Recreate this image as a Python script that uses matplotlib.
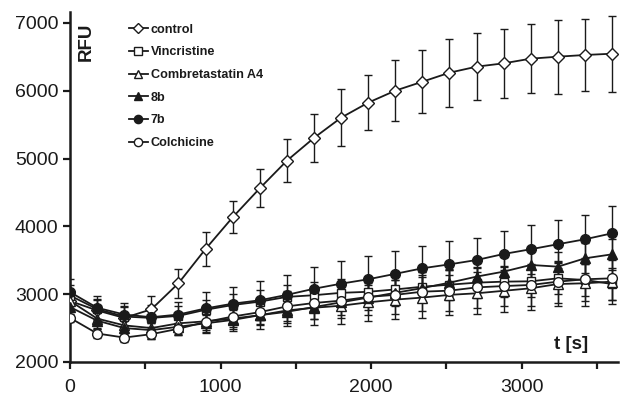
import matplotlib
matplotlib.use("Agg")
import matplotlib.pyplot as plt
from matplotlib.ticker import MultipleLocator

plt.rcParams["font.family"] = ["Liberation Sans", "DejaVu Sans"]

# Time points (s) and mean RFU / error per series.
TIME = [0, 180, 360, 540, 720, 900, 1080, 1260, 1440, 1620, 1800,
        1980, 2160, 2340, 2520, 2700, 2880, 3060, 3240, 3420, 3600]

CONTROL = [2900, 2760, 2650, 2777, 3161, 3667, 4134, 4562, 4969, 5305, 5603,
           5825, 6002, 6134, 6267, 6356, 6405, 6474, 6503, 6528, 6547]
CONTROL_ERR = [120, 150, 180, 200, 215, 250, 235, 280, 315, 357, 420,
               410, 455, 468, 500, 490, 510, 505, 545, 535, 560]

VINCRISTINE = [2980, 2780, 2670, 2650, 2680, 2770, 2840, 2890, 2960, 2985, 3020,
               3035, 3070, 3110, 3140, 3170, 3185, 3190, 3234, 3209, 3150]
VINCRISTINE_ERR = [150, 150, 140, 130, 140, 150, 160, 170, 180, 190, 200,
                   200, 210, 210, 220, 220, 220, 230, 230, 240, 240]

COMBRETASTATIN = [2900, 2640, 2540, 2500, 2570, 2600, 2640, 2690, 2760, 2800, 2830,
                  2880, 2920, 2950, 2990, 3013, 3050, 3087, 3150, 3161, 3185]
COMBRETASTATIN_ERR = [150, 140, 150, 160, 150, 170, 180, 200, 230, 250, 270,
                      280, 290, 300, 300, 310, 310, 320, 320, 330, 330]

C8B = [2810, 2610, 2500, 2470, 2520, 2570, 2620, 2690, 2740, 2810, 2880,
       2950, 3020, 3090, 3170, 3259, 3333, 3431, 3406, 3529, 3588]
C8B_ERR = [130, 120, 120, 110, 120, 130, 140, 150, 160, 170, 180,
           180, 190, 190, 200, 200, 210, 210, 220, 220, 230]

C7B = [3030, 2800, 2700, 2660, 2700, 2790, 2860, 2910, 2990, 3080, 3155,
       3220, 3300, 3382, 3440, 3504, 3593, 3663, 3737, 3810, 3898]
C7B_ERR = [200, 180, 170, 180, 190, 235, 245, 290, 300, 320, 340,
           340, 335, 330, 350, 330, 340, 360, 350, 360, 400]

COLCHICINE = [2650, 2420, 2360, 2410, 2490, 2590, 2670, 2735, 2820, 2870, 2905,
              2960, 2990, 3037, 3052, 3100, 3120, 3136, 3185, 3220, 3234]
COLCHICINE_ERR = [60, 60, 60, 70, 90, 120, 150, 180, 220, 240, 260,
                  270, 280, 290, 300, 300, 300, 310, 310, 320, 320]

INK = "#1a1a1a"

# label, values, errors, marker, face colour, marker size
SERIES = [
    ("control", CONTROL, CONTROL_ERR, "D", "white", 6.5),
    ("Vincristine", VINCRISTINE, VINCRISTINE_ERR, "s", "white", 6),
    ("Combretastatin A4", COMBRETASTATIN, COMBRETASTATIN_ERR, "^", "white", 6.5),
    ("8b", C8B, C8B_ERR, "^", INK, 6.5),
    ("7b", C7B, C7B_ERR, "o", INK, 7),
    ("Colchicine", COLCHICINE, COLCHICINE_ERR, "o", "white", 7),
]

fig = plt.figure(figsize=(6.2, 3.98), dpi=100)
ax = fig.add_axes([0.113, 0.0905, 0.884, 0.879])

handles = []
for label, values, errors, marker, face, size in SERIES:
    ax.errorbar(TIME, values, yerr=errors, fmt="none", ecolor=INK,
                elinewidth=1.0, capsize=3, capthick=1.0, zorder=2)
    line, = ax.plot(TIME, values, color=INK, linewidth=1.3, marker=marker,
                    markersize=size, markerfacecolor=face,
                    markeredgecolor=INK, markeredgewidth=1.0, label=label,
                    zorder=3)
    handles.append(line)

ax.set_xlim(0, 3640)
ax.set_ylim(2000, 7160)
ax.xaxis.set_major_locator(MultipleLocator(1000))
ax.xaxis.set_minor_locator(MultipleLocator(500))
ax.yaxis.set_major_locator(MultipleLocator(1000))

for side in ("top", "right"):
    ax.spines[side].set_visible(False)
for side in ("left", "bottom"):
    ax.spines[side].set_linewidth(1.8)
    ax.spines[side].set_color(INK)

ax.tick_params(axis="both", which="major", direction="out", length=5,
               width=1.6, color=INK, labelsize=14, labelcolor=INK)
ax.tick_params(axis="x", which="minor", direction="out", length=5,
               width=1.6, color=INK)
ax.tick_params(axis="x", which="major", pad=7)

ax.text(0.03, 0.97, "RFU", transform=ax.transAxes, rotation=90,
        fontsize=13.5, fontweight="bold", ha="center", va="top", color=INK)
ax.text(0.915, 0.05, "t [s]", transform=ax.transAxes, fontsize=13.5,
        fontweight="bold", ha="center", va="center", color=INK)

leg = ax.legend(handles=handles, loc="upper left",
                bbox_to_anchor=(0.086, 1.0), frameon=False,
                prop={"weight": "bold", "size": 9.1}, handlelength=1.55,
                handletextpad=0.2, labelspacing=0.85, markerscale=0.85)
for text in leg.get_texts():
    text.set_color(INK)

fig.savefig("out.png", dpi=100)
